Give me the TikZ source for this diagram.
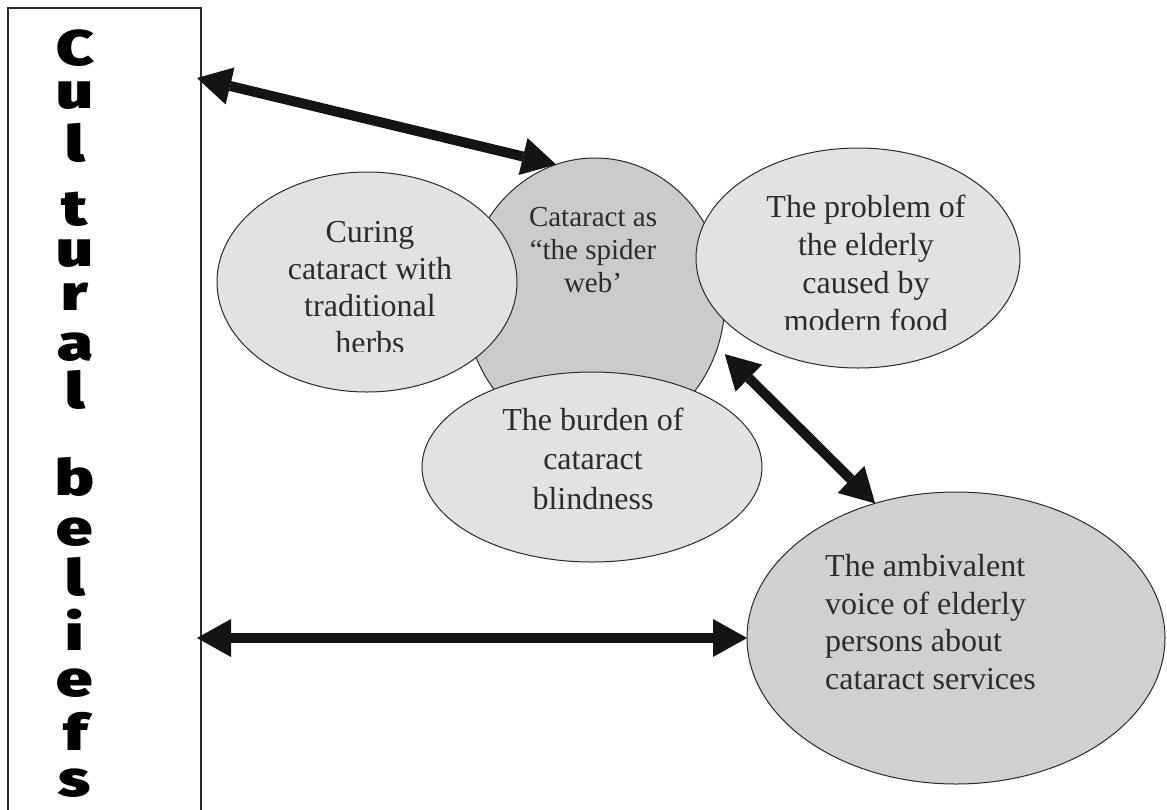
\documentclass[tikz,border=0pt]{standalone}
\usepackage{fontspec}
\usepackage{graphicx}
\setmainfont{Liberation Serif}
\newfontfamily\blackfont{Fira Sans Black}
\usetikzlibrary{shapes.geometric,arrows.meta}
\definecolor{lightfill}{HTML}{E2E2E2}
\definecolor{darkfill}{HTML}{CBCBCB}
\definecolor{ambfill}{HTML}{D0D0D0}
\definecolor{edge}{HTML}{2A2A2A}
\definecolor{txt}{HTML}{2C2C2C}
\definecolor{arrowc}{HTML}{141414}
\newcommand{\wl}[1]{\scalebox{1.3}[1]{#1}}
\tikzset{
  bubble/.style={ellipse, draw=edge, line width=1pt, inner sep=0pt, outer sep=0pt},
  lbl/.style={text=txt, inner sep=0pt, font=\fontsize{32}{37}\selectfont},
  bigarrow/.style={draw=arrowc, line width=10pt,
    {Triangle[length=34pt,width=38pt,line width=0pt]}-{Triangle[length=34pt,width=38pt,line width=0pt]}},
  stacked/.style={anchor=south, align=center, inner sep=0pt, text=black,
    font={\blackfont\fontsize{50}{0}\selectfont\lineskiplimit=-1000pt\lineskip=0pt}}
}
\begin{document}
\begin{tikzpicture}[x=1pt,y=-1pt]
\useasboundingbox[fill=white] (0,0) rectangle (1167,809);

% ellipses
\node[bubble, fill=darkfill, minimum width=260pt, minimum height=284pt] (web) at (595,300) {};
\node[bubble, fill=lightfill, minimum width=300pt, minimum height=220pt] (herb) at (367,282) {};
\node[bubble, fill=lightfill, minimum width=324pt, minimum height=220pt] (food) at (858,258) {};
\node[bubble, fill=lightfill, minimum width=340pt, minimum height=190pt] (burden) at (592,467) {};
\node[bubble, fill=ambfill, minimum width=418pt, minimum height=292pt] (amb) at (956,638) {};

% left box
\node[draw=edge, line width=1.5pt, minimum width=193pt, minimum height=810pt, inner sep=0pt, outer sep=0pt] (cb) at (104.5,413) {};
\node[stacked] (cbtxt) at (75,798) {\wl{C}\\[43pt]\wl{u}\\[53pt]\wl{l}\\[64pt]\wl{t}\\[41pt]\wl{u}\\[44pt]\wl{r}\\[50pt]\wl{a}\\[48pt]\wl{l}\\[87pt]\wl{b}\\[50pt]\wl{e}\\[50pt]\wl{l}\\[55pt]\wl{i}\\[46pt]\wl{e}\\[54pt]\wl{f}\\[46pt]\wl{s}};

% texts
\begin{scope}
  \clip (200,150) rectangle (540,351);
  \node[lbl, align=center, anchor=south] (herbtxt) at (370,354) {Curing\\cataract with\\traditional\\herbs};
\end{scope}
\node[lbl, align=center, anchor=south, font=\fontsize{29}{33}\selectfont] (webtxt) at (593,293) {Cataract as\\``the spider\\web'};
\begin{scope}
  \clip (700,150) rectangle (1030,329);
  \node[lbl, align=center, anchor=south, font=\fontsize{32}{38}\selectfont] (foodtxt) at (866,332) {The problem of\\the elderly\\caused by\\modern food};
\end{scope}
\node[lbl, align=center, anchor=south, font=\fontsize{32}{39.5}\selectfont] (burdentxt) at (593,510) {The burden of\\cataract\\blindness};
\node[lbl, align=left, anchor=south west, font=\fontsize{32}{37.5}\selectfont] (ambtxt) at (825,690) {The ambivalent\\voice of elderly\\persons about\\cataract services};

% arrows
\coordinate (cbTop) at (197,78);
\coordinate (cbBot) at (197,638);
\draw[bigarrow] (cbTop) -- (web.106.8);
\draw[bigarrow, shorten <=10pt] (web.-21.7) -- (amb.121.5);
\draw[bigarrow] (cbBot) -- (amb.west);
\end{tikzpicture}
\end{document}
